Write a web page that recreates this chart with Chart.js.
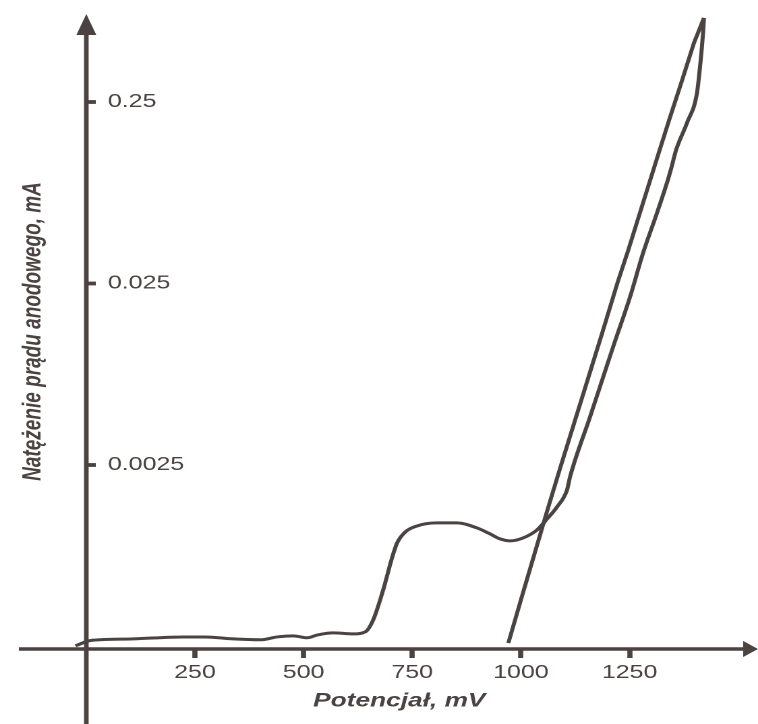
<!DOCTYPE html>
<html>
<head>
<meta charset="utf-8">
<script src="https://cdn.jsdelivr.net/npm/chart.js@4.4.1/dist/chart.umd.min.js"></script>
<style>
  html, body { margin: 0; padding: 0; background: #fff; overflow: hidden; }
  /* the original figure is stretched sideways, so draw narrow and stretch */
  #wrap { width: 562px; height: 724px; transform: scaleX(1.3488); transform-origin: 0 0; }
</style>
</head>
<body>
<div id="wrap"><canvas id="myChart" width="562" height="724"></canvas></div>
<script>
// forward scan (mV, mA)
const forwardPotential = [-53, -25, 5, 32, 108, 223, 274, 338, 400, 439, 476, 508, 531, 568, 614, 642,
  660, 683, 704, 715, 734, 761, 807, 853, 899, 929, 952, 975, 1005, 1037, 1060, 1083, 1106, 1113,
  1159, 1212, 1251, 1281, 1313, 1338, 1346, 1357, 1382, 1405, 1412, 1419, 1421]
const forwardCurrent = [0.000239, 0.000252, 0.000268, 0.000272, 0.000275, 0.000282, 0.000282, 0.000275,
  0.000272, 0.000282, 0.000286, 0.000279, 0.000289, 0.000297, 0.000293, 0.000301, 0.000350, 0.000512,
  0.000778, 0.000929, 0.001069, 0.001153, 0.001198, 0.001198, 0.001124, 0.001042, 0.000978, 0.000954,
  0.000990, 0.001096, 0.00126, 0.001467, 0.00182, 0.00215, 0.0046, 0.01117, 0.02106, 0.0368, 0.0611,
  0.0929, 0.1082, 0.136, 0.1915, 0.280, 0.390, 0.600, 0.726]

// return scan
const returnPotential = [1421, 1398, 1371, 1341, 1317, 1278, 1247, 1222, 1187, 1139, 1091, 1061, 1025, 1002, 971]
const returnCurrent = [0.726, 0.528, 0.3305, 0.1989, 0.1309, 0.066, 0.0382, 0.02516, 0.01334, 0.0057,
  0.002437, 0.001412, 0.000721, 0.000469, 0.000261]

// axis ticks
const potentialTicks = [250, 500, 750, 1000, 1250]
const currentTicks = [0.0025, 0.025, 0.25]
const currentTickLabels = ['0.0025', '0.025', '0.25']

const ink = '#4a4341'
const family = "'Liberation Sans', Arial, sans-serif"

// axis lines with arrows, running past the plot area like in the figure
const axesPlugin = {
  id: 'arrowAxes',
  beforeDatasetsDraw(chart) {
    const {ctx, chartArea} = chart
    const ax = chartArea.left
    const ay = chartArea.bottom
    ctx.save()
    ctx.strokeStyle = ink
    ctx.fillStyle = ink
    ctx.lineWidth = 3.4
    ctx.beginPath()
    ctx.moveTo(14, ay)
    ctx.lineTo(553, ay)
    ctx.moveTo(ax, 30)
    ctx.lineTo(ax, chart.height)
    ctx.stroke()
    // x arrow
    ctx.beginPath()
    ctx.moveTo(562, ay)
    ctx.lineTo(551, ay - 8)
    ctx.lineTo(551, ay + 8)
    ctx.closePath()
    ctx.fill()
    // y arrow
    ctx.beginPath()
    ctx.moveTo(ax, 14)
    ctx.lineTo(ax - 7.4, 35)
    ctx.lineTo(ax + 7.4, 35)
    ctx.closePath()
    ctx.fill()
    ctx.restore()
  }
}

const toPoints = (xs, ys) => xs.map((x, i) => ({x: x, y: ys[i]}))

const ctx = document.getElementById('myChart').getContext('2d')
const myChart = new Chart(ctx, {
  type: 'scatter',
  data: {
    datasets: [{
      data: toPoints(forwardPotential, forwardCurrent),
      showLine: true,
      borderColor: ink,
      borderWidth: 3,
      pointRadius: 0,
      cubicInterpolationMode: 'monotone',
      capBezierPoints: false,
      clip: false
    }, {
      data: toPoints(returnPotential, returnCurrent),
      showLine: true,
      borderColor: ink,
      borderWidth: 3,
      pointRadius: 0,
      tension: 0,
      clip: false
    }]
  },
  options: {
    responsive: false,
    animation: false,
    devicePixelRatio: 2,
    layout: {padding: {top: 14, right: 34, bottom: 0, left: 0}},
    plugins: {legend: {display: false}, tooltip: {enabled: false}},
    scales: {
      x: {
        type: 'linear',
        position: 'bottom',
        min: 0,
        max: 1440,
        afterBuildTicks: s => { s.ticks = potentialTicks.map(v => ({value: v})) },
        afterFit: s => { s.height = 75; s.paddingLeft = 0; s.paddingRight = 0 },
        border: {display: false},
        grid: {drawOnChartArea: false, tickLength: 9, tickWidth: 3.8, tickColor: ink},
        ticks: {
          padding: 4, color: ink, maxRotation: 0, autoSkip: false,
          font: {family: family, size: 18.5},
          callback: (v, i) => String(potentialTicks[i])
        },
        title: {
          display: true, text: 'Potencjał, mV', color: ink,
          font: {family: family, size: 19.5, weight: 'bold', style: 'italic'},
          padding: {top: 0, bottom: 11}
        }
      },
      y: {
        type: 'logarithmic',
        position: 'left',
        min: 0.000242,
        max: 0.763,
        afterBuildTicks: s => { s.ticks = currentTicks.map(v => ({value: v})) },
        afterFit: s => { s.width = 64; s.paddingTop = 0; s.paddingBottom = 0 },
        border: {display: false},
        //kreski do srodka
        grid: {drawOnChartArea: false, tickLength: -7, tickWidth: 3.8, tickColor: ink},
        ticks: {
          mirror: true, padding: 16, color: ink, autoSkip: false,
          font: {family: family, size: 18.5},
          callback: (v, i) => currentTickLabels[i]
        },
        title: {
          display: true, text: 'Natężenie prądu anodowego, mA', color: ink,
          font: {family: family, size: 19, weight: 'bold', style: 'italic'},
          padding: {top: 13.6, bottom: 0}
        }
      }
    }
  },
  plugins: [axesPlugin]
})
</script>
</body>
</html>
